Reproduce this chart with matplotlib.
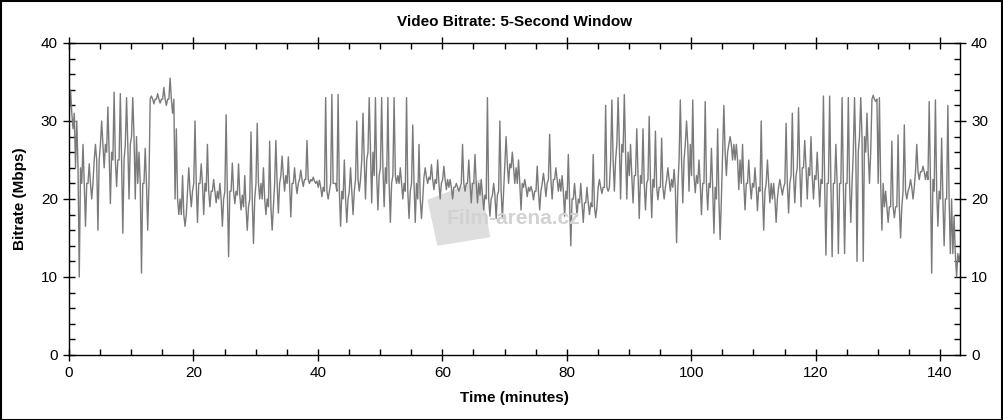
import matplotlib
matplotlib.use("Agg")
import matplotlib.pyplot as plt
from matplotlib.ticker import MultipleLocator
from matplotlib.patches import Rectangle, Polygon

# per-minute readings of the 5-second bitrate (Mbps), taken off the chart:
# core level of the trace, plus the highest and lowest excursion in that minute
minutes = list(range(144))
bitrate_level = [
    31, 24, 22, 22, 25, 27, 26, 25, 25, 27,
    28, 22, 22, 32.8, 32.8, 32.8, 32.8, 20, 18, 21,
    22, 22, 21, 21, 20, 21, 21, 20.5, 19, 20,
    22, 20, 19, 22, 23, 22, 22, 22.5, 22.5, 22.3,
    21.5, 21, 22, 21, 20, 21, 22.5, 25, 26, 23,
    24, 22, 23, 22, 21, 22, 20, 22.8, 22.5, 22,
    22.5, 21.5, 21.5, 22, 22, 22, 20.5, 20, 20.5, 21,
    24.5, 24, 22, 21.5, 21, 21, 22, 22.5, 22.5, 21,
    20, 20, 19.5, 19.5, 19, 21.5, 21.5, 25, 27, 26,
    23, 23, 22, 22.5, 21.5, 21.5, 22.5, 21.5, 25, 27,
    23, 22, 22, 21.5, 20, 26, 27, 25, 22, 22,
    21.5, 21, 22, 20, 21.5, 22, 23, 24, 24, 23,
    22.5, 22, 22, 22, 22, 22, 26, 28, 26, 32.8,
    22, 19, 19, 19, 21, 21.5, 23.5, 23.5, 22.5, 21,
    20, 20, 13, 12,
]
bitrate_high = [
    34, 30, 27, 24.5, 27, 30, 31.8, 33.7, 33.5, 33,
    33, 26, 26.5, 33.2, 33.5, 34.3, 35.5, 29, 23, 24,
    30, 24.5, 27, 22.5, 22, 30.8, 24.6, 24.5, 23, 28.6,
    29.7, 24, 27.4, 27.5, 25.5, 25.4, 24, 23.7, 27.5, 22.8,
    22.4, 33, 33.4, 33.4, 25, 24, 30, 31, 33, 33,
    33, 33, 33, 24, 33, 29.5, 27, 24, 24.4, 25,
    24.2, 22.5, 22, 27, 25, 25.7, 22.5, 33, 22, 30,
    28, 26, 25, 22.5, 21.6, 24.2, 23.3, 28.3, 24, 23,
    25.7, 22, 22, 21.5, 25.7, 22.5, 32, 32.7, 33, 33.4,
    27, 29, 29, 30.6, 28.7, 27.8, 24, 23.8, 32.7, 30,
    32.7, 25, 32.5, 26.5, 29, 32, 28, 27, 27, 25,
    24, 30, 25, 22, 22.5, 29.7, 31, 31.7, 27.5, 28,
    26, 33.2, 33.2, 27, 33, 33, 33, 33, 31, 33.3,
    33, 21, 27.4, 28.2, 29.5, 22.5, 27, 24.2, 32.5, 32.7,
    27.8, 32, 17.8, 13,
]
bitrate_low = [
    29, 10, 16.5, 20, 16, 24, 19.4, 21.6, 15.6, 20,
    20, 10.5, 16, 32.2, 32.3, 32, 31, 18, 16.5, 19,
    17, 18, 19, 19.5, 16.5, 12.6, 19.4, 18.6, 16, 14.3,
    20, 18, 16, 18.2, 21, 17.7, 20.7, 21.6, 22, 22,
    20.3, 20, 22, 16.5, 17, 18, 21, 20, 19.5, 18.6,
    19, 17, 22, 20, 17.5, 17, 17.5, 22, 21.2, 20,
    21.2, 20, 21, 21, 19.5, 19.5, 18.6, 17.8, 17.5, 17.5,
    22, 22, 18.6, 20.3, 19.9, 18.6, 20.3, 20, 21, 17.8,
    14, 17.8, 17, 18, 17.6, 20.7, 21, 21, 20, 20,
    19.5, 17.5, 18.6, 17.6, 19.9, 20, 21, 14.4, 19.5, 21,
    20.8, 18, 18.6, 15.6, 14.8, 23, 25, 21.2, 18.6, 20,
    18.5, 16, 19.5, 17, 20.5, 18.2, 19.5, 19, 20, 20,
    19, 12.8, 12.6, 13, 13, 17, 12, 12, 22, 32.5,
    16, 17, 17.6, 15, 20, 20, 22.5, 22.5, 10.5, 16.5,
    14, 13, 10, 10.5,
]
x_end = 143.2

# one continuous trace: level -> high -> level -> low -> level in each minute
xs, ys = [], []
for m, lv, hi, lo in zip(minutes, bitrate_level, bitrate_high, bitrate_low):
    xs += [m + 0.05, m + 0.25, m + 0.45, m + 0.65, m + 0.85]
    ys += [lv, hi, lv, lo, lv]

plt.rcParams['font.family'] = ['Liberation Sans', 'DejaVu Sans']

fig = plt.figure(figsize=(10.04, 4.2), dpi=100)
ax = fig.add_axes([69 / 1004, 1 - 355 / 420, (960 - 69) / 1004, (355 - 43) / 420])

ax.plot(xs, ys, color="#7a7a7a", linewidth=1.0, zorder=2)

ax.set_xlim(0, x_end)
ax.set_ylim(0, 40)
ax.xaxis.set_major_locator(MultipleLocator(20))
ax.xaxis.set_minor_locator(MultipleLocator(5))
ax.yaxis.set_major_locator(MultipleLocator(10))
ax.yaxis.set_minor_locator(MultipleLocator(2))

ax.tick_params(which="major", direction="inout", length=9, width=1, labelsize=11,
               left=True, right=True, bottom=True, top=True,
               labelleft=True, labelright=True, labeltop=False)
ax.tick_params(which="minor", direction="in", length=4, width=1,
               left=True, right=True, bottom=True, top=True)
for s in ax.spines.values():
    s.set_linewidth(1)

ax.set_title("Video Bitrate: 5-Second Window", fontsize=11, fontweight="bold", pad=12)
ax.set_xlabel("Time (minutes)", fontsize=11, fontweight="bold", labelpad=8)
ax.set_ylabel("Bitrate (Mbps)", fontsize=11, fontweight="bold", labelpad=10)

# watermark: tilted logo block and site name
ax.add_patch(Polygon([(57.6, 19.9), (66.1, 22.5), (67.7, 15.1), (59.2, 14.0)],
                     closed=True, facecolor="#dedede", edgecolor="none", zorder=1))
ax.text(71.5, 17.5, "Film-arena.cz", color="#d2d2d2", fontsize=15, fontweight="bold",
        ha="center", va="center", zorder=3)

fig.add_artist(Rectangle((0.0005, 0.001), 0.998, 0.997, transform=fig.transFigure,
                         fill=False, edgecolor="black", linewidth=1.5))

fig.savefig("out.png", dpi=100)
plt.close()
